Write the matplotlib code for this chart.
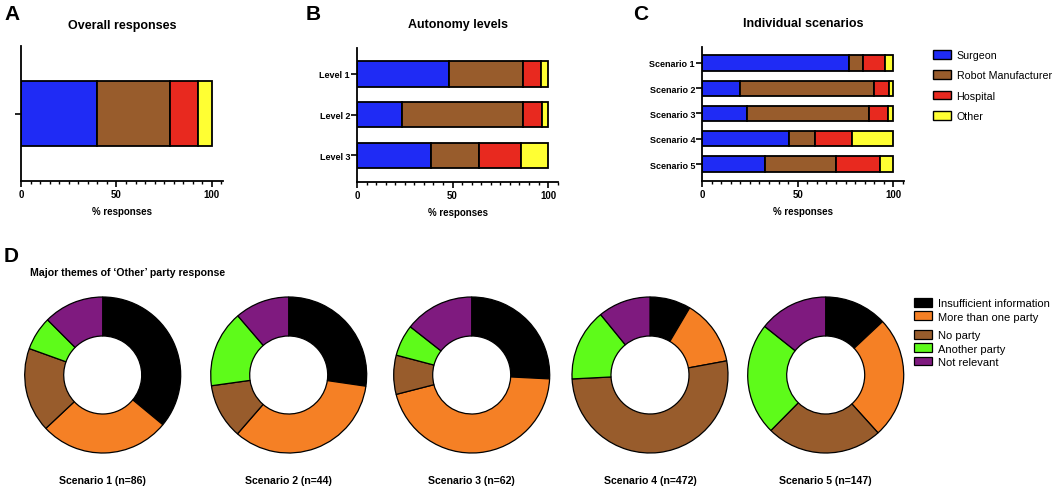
import matplotlib
matplotlib.use("Agg")
import matplotlib.pyplot as plt
from matplotlib.patches import Patch
from matplotlib.ticker import MultipleLocator

plt.rcParams['font.family'] = ['Liberation Sans', 'DejaVu Sans']

# ---- data ----
parties = ['Surgeon', 'Robot Manufacturer', 'Hospital', 'Other']
party_colors = ['#1f2bf5', '#985c2c', '#e8291f', '#ffff33']

overall = [40.0, 38.3, 14.2, 7.5]

levels = ['Level 1', 'Level 2', 'Level 3']
level_surgeon = [48.3, 23.7, 38.8]
level_manufacturer = [38.8, 63.4, 25.2]
level_hospital = [9.4, 9.6, 21.6]
level_other = [3.5, 3.3, 14.4]

scenarios = ['Scenario 1', 'Scenario 2', 'Scenario 3', 'Scenario 4', 'Scenario 5']
scen_surgeon = [77.0, 20.0, 23.7, 45.2, 33.0]
scen_manufacturer = [7.3, 70.0, 63.7, 13.6, 36.8]
scen_hospital = [11.3, 7.9, 9.5, 19.4, 23.2]
scen_other = [4.4, 2.1, 3.1, 21.8, 7.0]

themes = ['Insufficient information', 'More than one party', 'No party',
          'Another party', 'Not relevant']
theme_colors = ['#000000', '#f58025', '#985c2c', '#5efb1a', '#7f1a7f']
donut_titles = ['Scenario 1 (n=86)', 'Scenario 2 (n=44)', 'Scenario 3 (n=62)',
                'Scenario 4 (n=472)', 'Scenario 5 (n=147)']
donut_shares = [
    [36.0, 27.0, 17.5, 7.0, 12.5],
    [27.3, 34.1, 11.4, 15.9, 11.3],
    [25.8, 45.2, 8.1, 6.5, 14.4],
    [8.5, 13.6, 52.1, 14.9, 10.9],
    [13.0, 25.3, 24.1, 23.3, 14.3],
]

W, H = 1053, 489
fig = plt.figure(figsize=(W / 100, H / 100), dpi=100)


def px_axes(left, top, right, bottom):
    return fig.add_axes([left / W, 1 - bottom / H, (right - left) / W, (bottom - top) / H])


def style_bar_axes(ax, xmax):
    ax.set_xlim(0, xmax)
    for s in ['top', 'right']:
        ax.spines[s].set_visible(False)
    for s in ['left', 'bottom']:
        ax.spines[s].set_linewidth(1.3)
    ax.set_xticks([0, 50, 100])
    ax.xaxis.set_minor_locator(MultipleLocator(5))
    ax.tick_params(axis='x', which='major', length=4, width=1.2, labelsize=7, pad=2)
    ax.tick_params(axis='x', which='minor', length=2.5, width=1.0)
    ax.tick_params(axis='y', length=4, width=1.2, labelsize=6.5, pad=1)
    for lab in ax.get_xticklabels() + ax.get_yticklabels():
        lab.set_fontweight('bold')
    ax.set_xlabel('% responses', fontsize=7, fontweight='bold', labelpad=5)


def stacked(ax, ypos, series, height):
    left = [0] * len(ypos)
    for vals, col in zip(series, party_colors):
        ax.barh(ypos, vals, left=left, height=height, color=col,
                edgecolor='black', linewidth=1.3)
        left = [a + b for a, b in zip(left, vals)]


# ---- A ----
axA = px_axes(21, 47, 223, 182)
stacked(axA, [0], [[v] for v in overall], 1.0)
axA.set_ylim(-1.04, 1.04)
axA.set_yticks([0])
axA.set_yticklabels([''])
style_bar_axes(axA, 105.8)
axA.set_title('Overall responses', fontsize=9, fontweight='bold', pad=13)

# ---- B ----
axB = px_axes(357, 49, 558, 183)
yB = list(range(len(levels)))
stacked(axB, yB, [level_surgeon, level_manufacturer, level_hospital, level_other], 0.625)
axB.set_ylim(2.66, -0.64)
axB.set_yticks(yB)
axB.set_yticklabels(levels)
style_bar_axes(axB, 105.2)
axB.set_title('Autonomy levels', fontsize=9, fontweight='bold', pad=15)

# ---- C ----
axC = px_axes(702, 48, 904, 182)
yC = list(range(len(scenarios)))
stacked(axC, yC, [scen_surgeon, scen_manufacturer, scen_hospital, scen_other], 0.6)
axC.set_ylim(4.67, -0.63)
axC.set_yticks(yC)
axC.set_yticklabels(scenarios)
style_bar_axes(axC, 105.5)
axC.set_title('Individual scenarios', fontsize=9, fontweight='bold', pad=15)

handlesC = [Patch(facecolor=c, edgecolor='black', linewidth=1.0, label=p)
            for p, c in zip(parties, party_colors)]
fig.legend(handles=handlesC, loc='upper left', bbox_to_anchor=(933 / W, 1 - 51 / H),
           frameon=False, fontsize=7.7, handlelength=1.7, handleheight=0.9,
           labelspacing=0.95, handletextpad=0.5, borderaxespad=0, borderpad=0)

# ---- D ----
centers_x = [102.7, 288.7, 471.7, 650.0, 825.7]
cy = 376
r = 78
for cx, shares, title in zip(centers_x, donut_shares, donut_titles):
    ax = px_axes(cx - r * 1.02, cy - r * 1.02, cx + r * 1.02, cy + r * 1.02)
    ax.pie(shares, colors=theme_colors, startangle=90, counterclock=False,
           radius=1, wedgeprops=dict(width=0.5, edgecolor='black', linewidth=0.9))
    ax.set_xlim(-1.02, 1.02)
    ax.set_ylim(-1.02, 1.02)
    ax.set_aspect('equal')
    fig.text(cx / W, 1 - 481 / H, title, ha='center', va='center',
             fontsize=7.6, fontweight='bold')

fig.text(30 / W, 1 - 273 / H, 'Major themes of \u2018Other\u2019 party response',
         fontsize=7.6, fontweight='bold', ha='left', va='center')

h1 = [Patch(facecolor=c, edgecolor='black', linewidth=0.9, label=t)
      for t, c in zip(themes[:2], theme_colors[:2])]
h2 = [Patch(facecolor=c, edgecolor='black', linewidth=0.9, label=t)
      for t, c in zip(themes[2:], theme_colors[2:])]
kw = dict(frameon=False, fontsize=8.0, handlelength=1.6, handleheight=0.8,
          labelspacing=0.3, handletextpad=0.6, borderaxespad=0, borderpad=0,
          loc='upper left')
fig.legend(handles=h1, bbox_to_anchor=(914 / W, 1 - 299 / H), **kw)
fig.legend(handles=h2, bbox_to_anchor=(914 / W, 1 - 331 / H), **kw)

# ---- panel letters ----
for letter, x, y in [('A', 4, 15), ('B', 306, 15), ('C', 633, 15), ('D', 4, 256)]:
    fig.text(x / W, 1 - y / H, letter, fontsize=15, fontweight='bold',
             ha='left', va='center')

fig.savefig('out.png', dpi=100)
